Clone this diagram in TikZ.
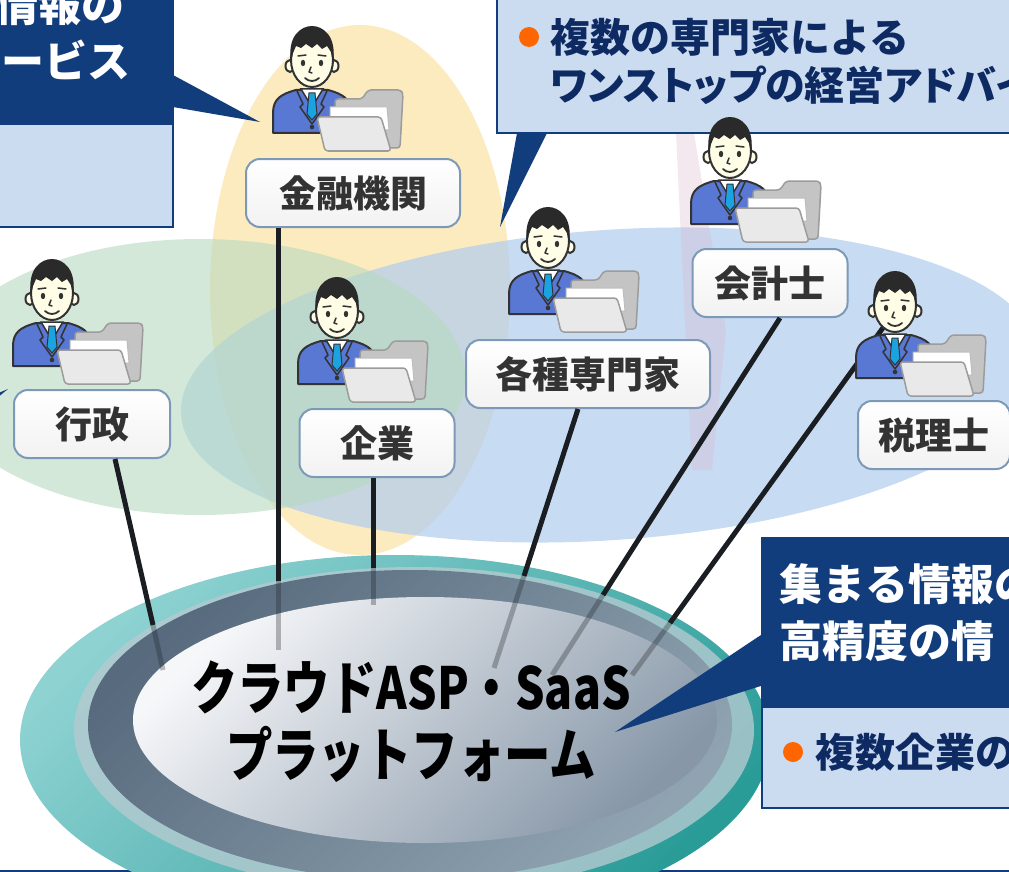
\documentclass[tikz,border=0pt]{standalone}
\usepackage{fontspec}
\newfontfamily\jpfont{Noto Sans CJK JP}
\newfontfamily\platfont[FakeStretch=0.8]{Noto Sans CJK JP}
\usetikzlibrary{arrows.meta, positioning}
\usepackage{xcolor}

\definecolor{navy}{HTML}{123D7C}
\definecolor{paleblue}{HTML}{CCDCF0}
\definecolor{inknavy}{HTML}{0E2A63}
\definecolor{bullet}{HTML}{FF6600}
\definecolor{haloyellow}{HTML}{FDEBC0}
\definecolor{haloblue}{HTML}{B0CCEE}
\definecolor{halogreen}{HTML}{B6DAC0}
\definecolor{beam}{HTML}{D9B6C8}
\definecolor{tagedge}{HTML}{7C9AB8}
\definecolor{tagshade}{HTML}{F2F2F2}
\definecolor{tagtext}{HTML}{333333}
\definecolor{wireink}{HTML}{1A1E22}
\definecolor{teallight}{HTML}{8ED2D2}
\definecolor{tealdark}{HTML}{2A9C98}
\definecolor{mistband}{HTML}{B4CAD0}
\definecolor{slatedark}{HTML}{586B7E}
\definecolor{slatelight}{HTML}{90A3B1}
\definecolor{mistlight}{HTML}{F6F7F9}
\definecolor{mistdark}{HTML}{8797A8}
\definecolor{outline}{HTML}{333333}
\definecolor{suitblue}{HTML}{5878D4}
\definecolor{tiecyan}{HTML}{1AA3E0}
\definecolor{skin}{HTML}{FFFDE6}
\definecolor{hair}{HTML}{2A2A2A}
\definecolor{folderback}{HTML}{C4C4C4}
\definecolor{folderfront}{HTML}{E9E9E9}
\definecolor{folderedge}{HTML}{9C9C9C}
\definecolor{paperedge}{HTML}{BDBDBD}

% office worker with an open folder, origin at the top left of the figure
\tikzset{
  clerk/.pic={
    \draw[line width=2pt, draw=outline, fill=suitblue, line join=round] (1,106) -- (1,86) .. controls (1,72) and (9,67) .. (24,63) -- (56,63) .. controls (71,67) and (79,72) .. (79,86) -- (79,106) -- cycle;
    \draw[line width=1.5pt, draw=outline, fill=white] (29,62) -- (40,80) -- (51,62) -- cycle;
    \draw[line width=1pt, draw=outline, fill=tiecyan] (37,66) -- (43,66) -- (45,87) -- (40,93) -- (35,87) -- cycle;
    \draw[line width=1.5pt, draw=outline, line join=round] (25,64) -- (31,77) -- (28,80) -- (40,97) -- (52,80) -- (49,77) -- (55,64);
    \fill[outline] (40,100) circle (2.3);
    \draw[line width=2pt, draw=outline, fill=skin] (18,39) ellipse [x radius=4.5, y radius=6];
    \draw[line width=2pt, draw=outline, fill=skin] (62,39) ellipse [x radius=4.5, y radius=6];
    \draw[line width=2pt, draw=outline, fill=skin] (40,33) ellipse [x radius=21, y radius=27];
    \fill[hair] (19,35) .. controls (15,9) and (29,-1) .. (40,-1) .. controls (51,-1) and (65,9) .. (61,35) -- (59,25) -- (55,19) -- (50,22) -- (45,17) -- (40,21) -- (34,17) -- (29,21) -- (24,19) -- (21,26) -- cycle;
    \fill[outline] (31,36) ellipse [x radius=2.2, y radius=3.2];
    \fill[outline] (49,36) ellipse [x radius=2.2, y radius=3.2];
    \draw[line width=1.5pt, outline, line cap=round] (26,29) -- (34,28) (46,28) -- (54,29);
    \draw[line width=1.5pt, outline, line cap=round, line join=round] (39,40) -- (37,45) -- (40,46);
    \draw[line width=1.8pt, outline, line cap=round] (33,51) .. controls (37,55) and (43,55) .. (47,51);
    \begin{scope}[shift={(45,63)}]
      \draw[folderedge, line width=1.5pt, fill=folderback, rounded corners=3pt, line join=round] (18,9) -- (45,9) -- (51,0) -- (84,0) -- (86,4) -- (83,58) -- (18,58) -- cycle;
      \draw[paperedge, line width=1pt, fill=white] (13,17) -- (70,17) -- (72,40) -- (13,40) -- cycle;
      \draw[folderedge, line width=1.5pt, fill=folderfront, rounded corners=3pt, line join=round] (0,27) -- (64,27) -- (74,61) -- (8,61) -- cycle;
    \end{scope}
  }
}

\begin{document}
\begin{tikzpicture}[x=1pt, y=-1pt,
    tag/.style={draw=tagedge, line width=2pt, rounded corners=14pt, top color=white, bottom color=tagshade, minimum height=68pt, inner xsep=6pt, text=tagtext, font=\jpfont\bfseries\fontsize{37}{37}\selectfont},
    wire/.style={draw=wireink, line width=5pt},
    ghost/.style={draw=wireink, line width=5pt, draw opacity=0.3},
    headline/.style={text=white, inner sep=0pt, font=\jpfont\bfseries\fontsize{43}{43}\selectfont},
    pointtext/.style={text=inknavy, inner sep=0pt, font=\jpfont\bfseries\fontsize{40}{40}\selectfont}
  ]
  \useasboundingbox (0,0) rectangle (1009,872);
  \clip (0,0) rectangle (1009,872);
  \fill[white] (0,0) rectangle (1009,872);
  \draw[navy, line width=2pt] (0,871) -- (1009,871);

  % overlapping groups
  \fill[haloyellow] (360,290) ellipse [x radius=150, y radius=265];
  \fill[haloblue, fill opacity=0.7, rotate around={4:(610,385)}] (610,385) ellipse [x radius=430, y radius=155];
  \fill[halogreen, fill opacity=0.6] (200,377) ellipse [x radius=265, y radius=138];
  \fill[beam, fill opacity=0.3] (676,133) -- (694,133) -- (726,330) -- (712,470) -- (692,470) -- cycle;

  % platform disc
  \shade[top color=teallight, bottom color=tealdark, shading angle=45] (395,740) ellipse [x radius=375, y radius=185];
  \fill[mistband, fill opacity=0.8] (414,730) ellipse [x radius=340, y radius=163];
  \shade[top color=slatedark, bottom color=slatelight, shading angle=45] (410,725) ellipse [x radius=322, y radius=155];
  \shade[top color=mistlight, bottom color=mistdark, shading angle=45] (425,720) ellipse [x radius=292, y radius=123];
  \node[font=\platfont\bfseries\fontsize{58}{67}\selectfont, align=center] (cloud) at (411,722) {クラウドASP・SaaS\\プラットフォーム};

  % members
  \node[tag, minimum width=214pt] (fin) at (353,193) {金融機関};
  \node[tag, minimum width=156pt] (gov) at (92,424) {行政};
  \node[tag, minimum width=155pt] (corp) at (377,443) {企業};
  \node[tag, minimum width=244pt] (expert) at (588,374) {各種専門家};
  \node[tag, minimum width=155pt] (cpa) at (770,283) {会計士};
  \node[tag, minimum width=152pt] (tax) at (934,435) {税理士};

  % links into the platform
  \coordinate (gov-rim) at (153,625);    \coordinate (gov-end) at (163,670);
  \coordinate (fin-rim) at (278,581);    \coordinate (fin-end) at (278,650);
  \coordinate (corp-rim) at (373,568);   \coordinate (corp-end) at (373,605);
  \coordinate (expert-rim) at (524,576); \coordinate (expert-end) at (494,668);
  \coordinate (cpa-rim) at (603,595);    \coordinate (cpa-end) at (552,675);
  \coordinate (tax-rim) at (670,623);    \coordinate (tax-end) at (632,675);
  \draw[wire] ([xshift=23pt]gov.south) -- (gov-rim);
  \draw[wire] ([xshift=-75pt]fin.south) -- (fin-rim);
  \draw[wire] ([xshift=-4pt]corp.south) -- (corp-rim);
  \draw[wire] ([xshift=-10pt]expert.south) -- (expert-rim);
  \draw[wire] ([xshift=10pt]cpa.south) -- (cpa-rim);
  \draw[wire] ([xshift=-49pt, yshift=75pt]tax.north) -- (tax-rim);
  \foreach \n in {gov, fin, corp, expert, cpa, tax}
    \draw[ghost] (\n-rim) -- (\n-end);

  % callouts
  \fill[paleblue] (-5,125) rectangle (173,227);
  \fill[navy] (-5,-5) rectangle (173,125);
  \fill[navy] (173,75) -- (260,122) -- (173,107) -- cycle;
  \draw[navy, line width=2pt] (-5,-5) rectangle (173,227);
  \node[headline, anchor=east] (svc1) at (125,5) {情報の};
  \node[headline, anchor=east] (svc2) at (131,60) {サービス};
  \fill[navy] (-30,420) -- (8,389) -- (-30,405) -- cycle;

  \fill[paleblue] (497,-5) rectangle (1015,133);
  \draw[navy, line width=2pt] (497,-5) rectangle (1015,133);
  \fill[navy] (517,133) -- (547,133) -- (500,227) -- cycle;
  \fill[bullet] (529,37) circle (10);
  \node[pointtext, anchor=west] (adv1) at (550,37) {複数の専門家による};
  \node[pointtext, anchor=west] (adv2) at (550,85) {\addfontfeatures{RawFeature=+palt}ワンストップの経営アドバイ};

  \fill[navy] (762,538) rectangle (1015,708);
  \fill[paleblue] (762,708) rectangle (1015,808);
  \draw[navy, line width=2pt] (762,538) rectangle (1015,808);
  \fill[navy] (764,633) -- (615,732) -- (764,685) -- cycle;
  \node[headline, anchor=west] (info1) at (779,584) {集まる情報の};
  \node[headline, anchor=west] (info2) at (779,641) {高精度の情};
  \fill[bullet] (793,752) circle (10);
  \node[pointtext, anchor=west] (info3) at (815,752) {複数企業の};

  % people at each member
  \pic at (272,27) {clerk};
  \pic at (12,260) {clerk};
  \pic at (297,278) {clerk};
  \pic at (508,208) {clerk};
  \pic at (690,118) {clerk};
  \pic at (855,272) {clerk};
\end{tikzpicture}
\end{document}
